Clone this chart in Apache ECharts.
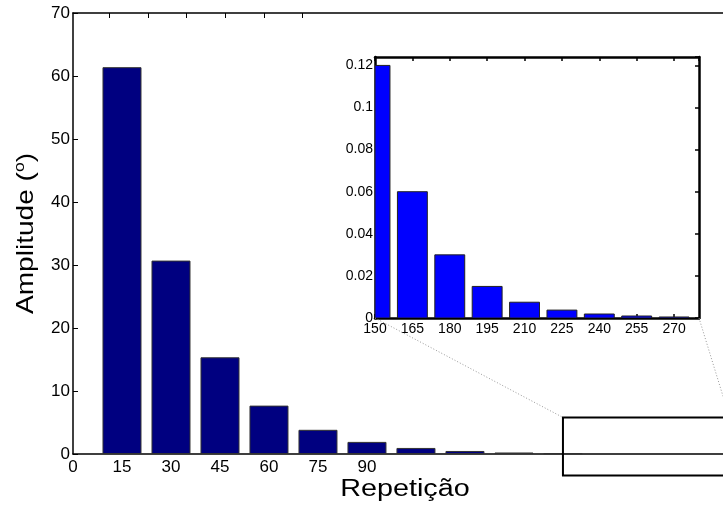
<!DOCTYPE html>
<html>
<head>
<meta charset="utf-8">
<script src="https://cdn.jsdelivr.net/npm/echarts@6/dist/echarts.min.js"></script>
<style>html,body{margin:0;padding:0;background:#fff}#c{width:723px;height:509px}</style>
</head>
<body>
<div id="c"></div>
<script>
// ---- data ----
const mainX = [15, 30, 45, 60, 75, 90, 105, 120, 135, 150];
const mainY = [61.4, 30.7, 15.35, 7.68, 3.84, 1.92, 0.96, 0.48, 0.24, 0.12];
const insetX = [150, 165, 180, 195, 210, 225, 240, 255, 270];
const insetY = [0.12, 0.06, 0.03, 0.015, 0.0075, 0.00375, 0.0019, 0.00095, 0.00048];
const mainXLabels = [0, 15, 30, 45, 60, 75, 90];
const mainTopTicks = [11.1, 23, 34.8, 46.6, 58.5, 70.3];
const zoomBox = { x0: 150, x1: 201, y0: -3.4, y1: 5.8 };
const xName = 'Repetição';
const yName = '{a|Amplitude (}{s|o}{a|)}';

const FONT = 'Liberation Sans, Arial, Helvetica, sans-serif';
const chart = echarts.init(document.getElementById('c'));
const blackLine = w => ({ show: true, onZero: false, lineStyle: { color: '#000', width: w } });

chart.setOption({
  animation: false,
  backgroundColor: '#fff',
  textStyle: { fontFamily: FONT },
  grid: [
    { left: 73, top: 13, width: 650, height: 441 },
    { left: 375, top: 57, width: 324, height: 261, show: true, backgroundColor: '#fff', borderWidth: 0 }
  ],
  xAxis: [
    { gridIndex: 0, type: 'value', position: 'bottom', min: 0, max: 199, interval: 15,
      axisLine: blackLine(1.5), axisTick: { show: false }, splitLine: { show: false },
      axisLabel: { customValues: mainXLabels, fontSize: 17, color: '#000', margin: 5, fontFamily: FONT } },
    { gridIndex: 0, type: 'value', position: 'top', min: 0, max: 199,
      axisLine: blackLine(1.5),
      axisTick: { show: true, inside: true, length: 5, customValues: mainTopTicks, lineStyle: { color: '#000', width: 1 } },
      axisLabel: { show: false }, splitLine: { show: false } },
    { gridIndex: 1, type: 'value', position: 'bottom', min: 150, max: 280, interval: 15,
      axisLine: blackLine(2.5),
      axisTick: { show: true, inside: true, length: 4, lineStyle: { color: '#000', width: 1.5 } },
      axisLabel: { fontSize: 14, color: '#000', margin: 4, showMaxLabel: false, fontFamily: FONT },
      splitLine: { show: false } },
    { gridIndex: 1, type: 'value', position: 'top', min: 150, max: 280, interval: 15,
      axisLine: blackLine(2.5),
      axisTick: { show: true, inside: true, length: 4, lineStyle: { color: '#000', width: 1.5 } },
      axisLabel: { show: false }, splitLine: { show: false } }
  ],
  yAxis: [
    { gridIndex: 0, type: 'value', min: 0, max: 70, interval: 10,
      axisLine: blackLine(1.5),
      axisTick: { show: true, inside: true, length: 5, lineStyle: { color: '#000', width: 1 } },
      axisLabel: { fontSize: 17, color: '#000', margin: 3, fontFamily: FONT },
      splitLine: { show: false } },
    { gridIndex: 1, type: 'value', position: 'left', min: 0, max: 0.124, interval: 0.02,
      axisLine: blackLine(2.5),
      axisTick: { show: true, inside: true, length: 4, lineStyle: { color: '#000', width: 1.5 } },
      axisLabel: { fontSize: 14, color: '#000', margin: 2, showMaxLabel: false, fontFamily: FONT },
      splitLine: { show: false } },
    { gridIndex: 1, type: 'value', position: 'right', min: 0, max: 0.124, interval: 0.02,
      axisLine: blackLine(2.5),
      axisTick: { show: true, inside: true, length: 4, lineStyle: { color: '#000', width: 1.5 } },
      axisLabel: { show: false }, splitLine: { show: false } }
  ],
  series: [
    { type: 'bar', xAxisIndex: 0, yAxisIndex: 0, barWidth: 39,
      data: mainX.map((x, i) => [x, mainY[i]]),
      itemStyle: { color: '#000080', borderColor: '#333', borderWidth: 1 } },
    { type: 'custom', xAxisIndex: 2, yAxisIndex: 1, clip: true,
      data: insetX.map((x, i) => [x, insetY[i]]),
      renderItem: function (params, api) {
        const x = api.value(0), y = api.value(1);
        const top = api.coord([x, y]);
        const base = api.coord([x, 0]);
        const w = api.size([insetX[1] - insetX[0], 0])[0] * 0.8;
        const cs = params.coordSys;
        const rect = echarts.graphic.clipRectByRect(
          { x: top[0] - w / 2, y: top[1], width: w, height: base[1] - top[1] },
          { x: cs.x, y: cs.y, width: cs.width, height: cs.height });
        return rect && { type: 'rect', shape: rect,
          style: { fill: '#0000ff', stroke: '#222', lineWidth: 1 } };
      } }
  ]
});

const pm = p => chart.convertToPixel({ xAxisIndex: 0, yAxisIndex: 0 }, p);
const pi = p => chart.convertToPixel({ xAxisIndex: 2, yAxisIndex: 1 }, p);
const r0 = pm([zoomBox.x0, zoomBox.y1]);
const r1 = pm([zoomBox.x1, zoomBox.y0]);
const iBL = pi([150, 0]);
const iBR = pi([280, 0]);
const axMidX = pm([101, 0]);
const axMidY = pm([0, 35]);
const dotted = { stroke: '#999', lineWidth: 1, lineDash: [1, 2] };
chart.setOption({
  graphic: [
    { type: 'rect', z: 100, shape: { x: r0[0], y: r0[1], width: r1[0] - r0[0], height: r1[1] - r0[1] },
      style: { fill: 'none', stroke: '#000', lineWidth: 2 } },
    { type: 'line', z: 99, shape: { x1: iBL[0], y1: iBL[1], x2: r0[0], y2: r0[1] }, style: dotted },
    { type: 'line', z: 99, shape: { x1: iBR[0], y1: iBR[1], x2: r1[0], y2: r0[1] }, style: dotted },
    { type: 'text', z: 100, x: axMidX[0] + 2, y: axMidX[1] + 36, scaleX: 1.25,
      style: { text: xName, fontSize: 23, fontFamily: FONT, fill: '#000', align: 'center', verticalAlign: 'middle' } },
    { type: 'text', z: 100, x: 26, y: axMidY[1], rotation: Math.PI / 2, scaleX: 1.17,
      style: { text: yName, fontFamily: FONT, fill: '#000', align: 'center', verticalAlign: 'middle',
        rich: { a: { fontSize: 24, fontFamily: FONT, fill: '#000' },
                s: { fontSize: 15, fontFamily: FONT, fill: '#000', padding: [0, 0, 12, 0] } } } }
  ]
});
</script>
</body>
</html>
